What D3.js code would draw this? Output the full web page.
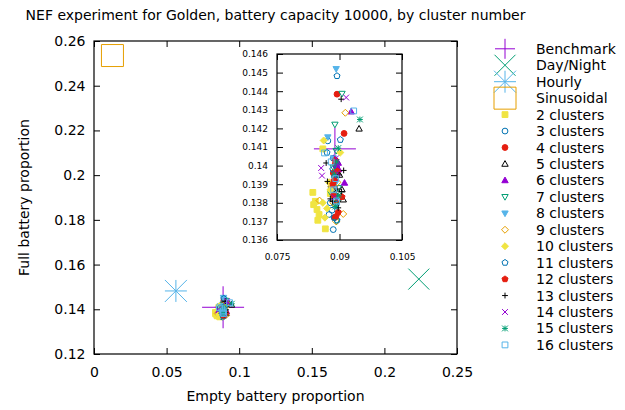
<!DOCTYPE html>
<html><head><meta charset="utf-8">
<script src="https://cdn.jsdelivr.net/npm/d3@7"></script>
<style>
body{margin:0;background:#fff;}
text{font-family:"DejaVu Sans",sans-serif;fill:#000;}
</style></head>
<body><svg id="c" width="625" height="410"></svg>
<script>
// ---------- data ----------
const title = "NEF experiment for Golden, battery capacity 10000, by cluster number";
const xLabel = "Empty battery proportion";
const yLabel = "Full battery proportion";
const mainXTicks = [0, 0.05, 0.1, 0.15, 0.2, 0.25];
const mainYTicks = [0.12, 0.14, 0.16, 0.18, 0.2, 0.22, 0.24, 0.26];
const insetXTicks = [0.075, 0.09, 0.105];
const insetYTicks = [0.136, 0.137, 0.138, 0.139, 0.14, 0.141, 0.142, 0.143, 0.144, 0.145, 0.146];

const benchmark = [[0.0889, 0.1409]];
const dayNight = [[0.2237, 0.1535]];
const hourly = [[0.0564, 0.1482]];
const sinusoidal = [[0.0127, 0.2535]];

const c2 = [[0.0860,0.14090],[0.0836,0.13856],[0.0838,0.13790],[0.0842,0.13808],[0.0846,0.13764],[0.0851,0.13737],[0.0848,0.13706],[0.0866,0.13660],[0.0878,0.13850]];
const c3 = [[0.0872,0.14133],[0.0882,0.13760],[0.0875,0.13737],[0.0885,0.13656],[0.0885,0.14040],[0.0880,0.13880],[0.0878,0.13800]];
const c4 = [[0.0894,0.14384],[0.0911,0.14173],[0.0890,0.14010],[0.0885,0.13960],[0.0893,0.13990],[0.0882,0.13900],[0.0892,0.13800],[0.0888,0.13720]];
const c5 = [[0.0947,0.14198],[0.0906,0.13871],[0.0909,0.13817],[0.0900,0.13950],[0.0895,0.14020],[0.0890,0.13850]];
const c6 = [[0.0928,0.14290],[0.0897,0.14014],[0.0912,0.13907],[0.0898,0.13980],[0.0893,0.14000],[0.0889,0.13930]];
const c7 = [[0.0906,0.14387],[0.0889,0.14221],[0.0892,0.14080],[0.0885,0.13990],[0.0897,0.13880],[0.0893,0.13700],[0.0896,0.13810],[0.0880,0.13850]];
const c8 = [[0.0892,0.14520],[0.0872,0.14153],[0.0885,0.14040],[0.0889,0.13900],[0.0880,0.13860],[0.0893,0.13780]];
const c9 = [[0.0914,0.14284],[0.0852,0.13812],[0.0909,0.13740],[0.0892,0.13700],[0.0880,0.13890],[0.0885,0.13800],[0.0895,0.13910]];
const c10 = [[0.0862,0.14135],[0.0902,0.14070],[0.0875,0.13910],[0.0878,0.13870],[0.0860,0.13800],[0.0870,0.13770],[0.0865,0.13720]];
const c11 = [[0.0894,0.14482],[0.0902,0.14139],[0.0894,0.13706],[0.0888,0.13940],[0.0890,0.13820],[0.0887,0.13720],[0.0870,0.14070],[0.0884,0.13980]];
const c12 = [[0.0906,0.13832],[0.0892,0.13728],[0.0895,0.13970],[0.0887,0.13920],[0.0886,0.13840],[0.0897,0.13750],[0.0890,0.14030],[0.0884,0.13900]];
const c13 = [[0.0904,0.14357],[0.0868,0.14014],[0.0910,0.13974],[0.0871,0.13915],[0.0894,0.13874],[0.0878,0.13821],[0.0883,0.13808],[0.0897,0.13773],[0.0899,0.13950],[0.0905,0.13860]];
const c14 = [[0.0916,0.14366],[0.0856,0.13987],[0.0858,0.13946],[0.0892,0.14040],[0.0895,0.13960],[0.0888,0.13830]];
const c15 = [[0.0949,0.14248],[0.0897,0.14094],[0.0893,0.14020],[0.0888,0.13950],[0.0898,0.13840],[0.0890,0.13780]];
const c16 = [[0.0934,0.14294],[0.0864,0.14068],[0.0880,0.14020],[0.0891,0.13930],[0.0886,0.13870],[0.0893,0.13810]];

const seriesNames = ["Benchmark","Day/Night","Hourly","Sinusoidal","2 clusters","3 clusters","4 clusters","5 clusters","6 clusters","7 clusters","8 clusters","9 clusters","10 clusters","11 clusters","12 clusters","13 clusters","14 clusters","15 clusters","16 clusters"];
const seriesData = [benchmark, dayNight, hourly, sinusoidal, c2,c3,c4,c5,c6,c7,c8,c9,c10,c11,c12,c13,c14,c15,c16];
const seriesColors = ["#9400d3","#009e73","#56b4e9","#e69f00","#f0e442","#0072b2","#e51e10","#000000","#9400d3","#009e73","#56b4e9","#e69f00","#f0e442","#0072b2","#e51e10","#000000","#9400d3","#009e73","#56b4e9"];
const seriesShapes = ["plus","cross","star","osquare","fsquare","ocircle","fcircle","otri","ftri","odtri","fdtri","odiamond","fdiamond","opent","fpent","plus","cross","star","osquare"];

// ---------- drawing ----------
const svg = d3.select("#c");
const FS = 14;

function symbol(g, shape, cx, cy, s, color) {
  const p = d3.path();
  let filled = shape.startsWith("f");
  const t = shape.replace(/^[of]/, "");
  if (shape === "plus" || shape === "star") { p.moveTo(cx-s,cy); p.lineTo(cx+s,cy); p.moveTo(cx,cy-s); p.lineTo(cx,cy+s); }
  if (shape === "cross" || shape === "star") { p.moveTo(cx-s,cy-s); p.lineTo(cx+s,cy+s); p.moveTo(cx-s,cy+s); p.lineTo(cx+s,cy-s); }
  if (t === "square") { p.rect(cx-s, cy-s, 2*s, 2*s); }
  if (t === "circle") { p.moveTo(cx+s,cy); p.arc(cx,cy,s,0,2*Math.PI); }
  if (t === "tri") { p.moveTo(cx,cy-s*1.15); p.lineTo(cx+s*1.1,cy+s*0.8); p.lineTo(cx-s*1.1,cy+s*0.8); p.closePath(); }
  if (t === "dtri") { p.moveTo(cx,cy+s*1.15); p.lineTo(cx+s*1.1,cy-s*0.8); p.lineTo(cx-s*1.1,cy-s*0.8); p.closePath(); }
  if (t === "diamond") { p.moveTo(cx,cy-s*1.2); p.lineTo(cx+s*1.2,cy); p.lineTo(cx,cy+s*1.2); p.lineTo(cx-s*1.2,cy); p.closePath(); }
  if (t === "pent") { for (let i=0;i<5;i++){ const a=-Math.PI/2+i*2*Math.PI/5; const px=cx+s*1.1*Math.cos(a), py=cy+s*1.1*Math.sin(a); if(i===0)p.moveTo(px,py); else p.lineTo(px,py);} p.closePath(); }
  g.append("path").attr("d", p.toString())
    .attr("fill", filled ? color : "none")
    .attr("stroke", color).attr("stroke-width", 1);
}

function bigSize(i, inLegend) {
  if (i === 0) return inLegend ? 10 : 21;
  if (i === 1) return 10.5;
  if (i === 2) return 11;
  if (i === 3) return 11;
  return 0;
}
const smallS = 2.9;

function drawPanel(g, x, y, xt, yt, fsz, pad, clipId) {
  const [x0,x1] = x.range(), [y0,y1] = y.range();
  g.append("rect").attr("x",x0).attr("y",y1).attr("width",x1-x0).attr("height",y0-y1).attr("fill","#fff");
  const fmt = d => String(+d.toPrecision(6));
  g.append("g").attr("transform",`translate(0,${y0})`).call(d3.axisBottom(x).tickValues(xt).tickSize(-6).tickPadding(pad.x).tickFormat(fmt));
  g.append("g").attr("transform",`translate(${x0},0)`).call(d3.axisLeft(y).tickValues(yt).tickSize(-6).tickPadding(pad.y).tickFormat(fmt));
  g.append("g").attr("transform",`translate(0,${y1})`).call(d3.axisTop(x).tickValues(xt).tickSize(-6).tickFormat(""));
  g.append("g").attr("transform",`translate(${x1},0)`).call(d3.axisRight(y).tickValues(yt).tickSize(-6).tickFormat(""));
  g.selectAll(".domain").remove();
  g.selectAll(".tick line").attr("stroke","#000");
  g.selectAll(".tick text").attr("font-size", fsz).attr("font-family","DejaVu Sans").attr("fill","#000");
  g.append("clipPath").attr("id",clipId).append("rect").attr("x",x0).attr("y",y1).attr("width",x1-x0).attr("height",y0-y1);
  const pts = g.append("g").attr("clip-path",`url(#${clipId})`);
  seriesData.forEach((data,i) => {
    const sg = pts.append("g");
    data.forEach(d => {
      const s = i < 4 ? bigSize(i,false) : smallS;
      symbol(sg, seriesShapes[i], x(d[0]), y(d[1]), s, seriesColors[i]);
    });
  });
  g.append("rect").attr("x",x0).attr("y",y1).attr("width",x1-x0).attr("height",y0-y1)
    .attr("fill","none").attr("stroke","#000").attr("stroke-width",1.2);
}

// main panel
const x = d3.scaleLinear().domain([0,0.25]).range([94,457]);
const y = d3.scaleLinear().domain([0.12,0.26]).range([354,41]);
const main = svg.append("g");
drawPanel(main, x, y, mainXTicks, mainYTicks, FS, {x:13, y:8.5}, "clipMain");

// inset
const xi = d3.scaleLinear().domain([0.075,0.105]).range([277,402]);
const yi = d3.scaleLinear().domain([0.136,0.146]).range([240,54]);
const inset = svg.append("g");
drawPanel(inset, xi, yi, insetXTicks, insetYTicks, 9, {x:14, y:9}, "clipInset");

// title and labels
svg.append("text").attr("x",275.5).attr("y",20).attr("text-anchor","middle").attr("font-size",FS).text(title);
svg.append("text").attr("x",275.5).attr("y",401).attr("text-anchor","middle").attr("font-size",FS).text(xLabel);
svg.append("text").attr("transform","translate(28.5,197.5) rotate(-90)").attr("text-anchor","middle").attr("font-size",FS).text(yLabel);

// legend
const leg = svg.append("g");
const rowY = i => 48.8 + i*16.45;
seriesNames.forEach((name,i) => {
  const cy = rowY(i);
  const s = i < 4 ? bigSize(i,true) : smallS;
  symbol(leg, seriesShapes[i], 505, cy, s, seriesColors[i]);
  leg.append("text").attr("x",536).attr("y",cy).attr("dy","0.36em").attr("font-size",FS).text(name);
});
</script></body></html>
